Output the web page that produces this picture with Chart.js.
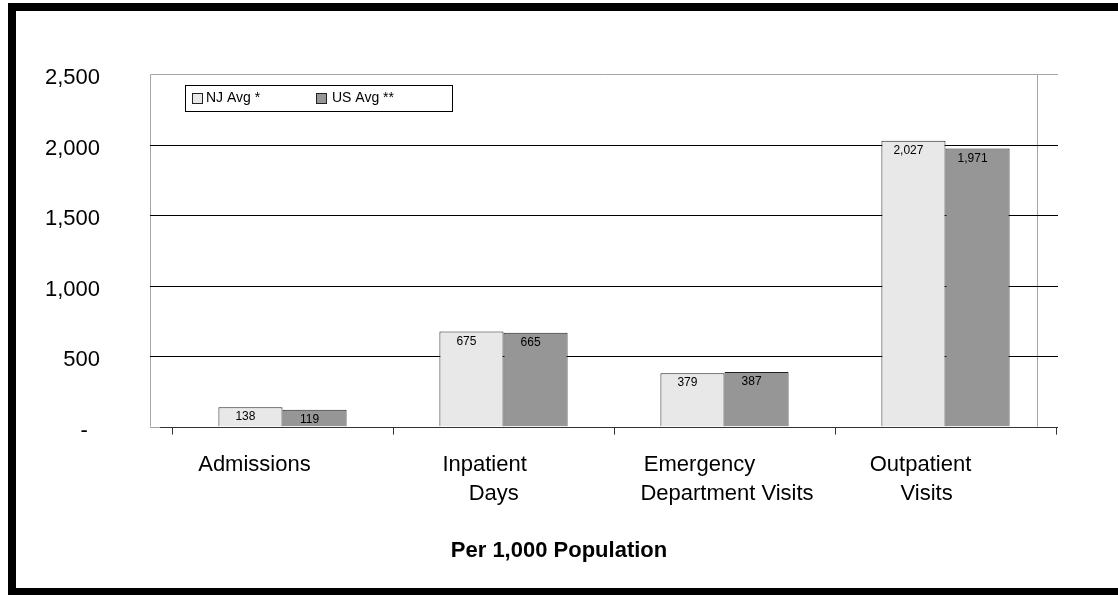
<!DOCTYPE html>
<html>
<head>
<meta charset="utf-8">
<script src="https://cdn.jsdelivr.net/npm/chart.js@4.4.1/dist/chart.umd.min.js"></script>
<style>
  html, body { margin: 0; padding: 0; background: #fff; overflow: hidden; }
  #wrap { position: relative; width: 1118px; height: 595px; }
  #frame { position: absolute; left: 8px; top: 3px; width: 1200px; height: 577px; border: 8px solid #000; }
  #chart { position: absolute; left: 0; top: 0; }
</style>
</head>
<body>
<div id="wrap">
  <div id="frame"></div>
  <canvas id="chart" width="1118" height="595"></canvas>
</div>
<script>
// utilization per 1,000 population
const categories = [
  'Admissions ',
  ['  Inpatient', '     Days'],
  ['Emergency', '         Department Visits'],
  ['Outpatient', '  Visits']
];
const seriesNames = ['NJ Avg *', 'US Avg **'];
const njAvg = [138, 675, 379, 2027];
const usAvg = [119, 665, 387, 1971];
const yMax = 2500;
const yStep = 500;

const FONT = "'Liberation Sans', Arial, Helvetica, sans-serif";
const fills = ['#e8e8e8', '#969696'];
const edge = '#222';

const fmt = v => v.toLocaleString('en-US');

// back wall outline plus the horizontal gridlines, which run a little past the plot
const wallPlugin = {
  id: 'wall',
  beforeDatasetsDraw(chart) {
    const { ctx, chartArea: a, scales: { y } } = chart;
    const left = a.left - 22, right = a.right + 2, back = a.right - 19;
    ctx.save();
    ctx.lineWidth = 1;
    ctx.strokeStyle = '#a6a6a6';
    ctx.beginPath();
    ctx.moveTo(left + 0.5, a.bottom);
    ctx.lineTo(left + 0.5, a.top + 0.5);
    ctx.lineTo(right, a.top + 0.5);
    ctx.moveTo(back + 0.5, a.top);
    ctx.lineTo(back + 0.5, a.bottom);
    ctx.stroke();

    ctx.strokeStyle = '#000';
    ctx.beginPath();
    y.ticks.forEach(t => {
      if (t.value <= 0 || t.value >= yMax) return;
      const py = Math.round(y.getPixelForValue(t.value)) + 0.5;
      ctx.moveTo(left, py);
      ctx.lineTo(right, py);
    });
    ctx.stroke();
    ctx.restore();
  },
  afterDatasetsDraw(chart) {
    const { ctx, chartArea: a, scales: { y } } = chart;
    const left = a.left - 22, right = a.right + 2;
    const py = Math.round(y.getPixelForValue(0)) + 0.5;
    ctx.save();
    ctx.lineWidth = 1;
    ctx.strokeStyle = '#a6a6a6';
    ctx.beginPath();
    ctx.moveTo(left, py);
    ctx.lineTo(a.left - 12, py);
    ctx.stroke();
    ctx.strokeStyle = '#333';
    ctx.beginPath();
    ctx.moveTo(a.left - 12, py);
    ctx.lineTo(right, py);
    ctx.stroke();
    ctx.restore();
  }
};

// value labels just inside the top of each bar
const valueLabels = {
  id: 'valueLabels',
  afterDatasetsDraw(chart) {
    const { ctx } = chart;
    ctx.save();
    ctx.font = '12px ' + FONT;
    ctx.fillStyle = '#000';
    ctx.textAlign = 'center';
    ctx.textBaseline = 'middle';
    chart.data.datasets.forEach((ds, i) => {
      chart.getDatasetMeta(i).data.forEach((bar, j) => {
        ctx.fillText(fmt(ds.data[j]), bar.x - 5, bar.y + 10);
      });
    });
    ctx.restore();
  }
};

// boxed legend in the upper left of the plot
const boxLegend = {
  id: 'boxLegend',
  afterDraw(chart) {
    const { ctx, chartArea: a } = chart;
    const x0 = a.left + 13, y0 = a.top + 11, w = 267, h = 26;
    ctx.save();
    ctx.fillStyle = '#fff';
    ctx.fillRect(x0, y0, w, h);
    ctx.strokeStyle = '#000';
    ctx.lineWidth = 1;
    ctx.strokeRect(x0 + 0.5, y0 + 0.5, w, h);
    ctx.font = '14px ' + FONT;
    ctx.textBaseline = 'middle';
    const items = [{ sx: 7, tx: 21 }, { sx: 131, tx: 147 }];
    chart.data.datasets.forEach((ds, i) => {
      const it = items[i];
      const cy = Math.round(y0 + h / 2) + 0.5;
      ctx.fillStyle = ds.backgroundColor;
      ctx.fillRect(x0 + it.sx, cy - 5, 10, 10);
      ctx.strokeStyle = edge;
      ctx.strokeRect(x0 + it.sx + 0.5, cy - 5, 10, 10);
      ctx.fillStyle = '#000';
      ctx.fillText(ds.label, x0 + it.tx, cy);
    });
    ctx.restore();
  }
};

new Chart(document.getElementById('chart'), {
  type: 'bar',
  data: {
    labels: categories,
    datasets: [
      { label: seriesNames[0], data: njAvg, backgroundColor: fills[0], borderColor: edge, borderWidth: 1 },
      { label: seriesNames[1], data: usAvg, backgroundColor: fills[1], borderColor: edge, borderWidth: 1 }
    ]
  },
  options: {
    responsive: false,
    animation: false,
    datasets: { bar: { categoryPercentage: 0.58, barPercentage: 1.0 } },
    layout: { padding: { top: 74, right: 0, left: 0, bottom: 0 } },
    plugins: {
      legend: { display: false },
      tooltip: { enabled: false },
      title: {
        display: true,
        position: 'bottom',
        text: 'Per 1,000 Population',
        color: '#000',
        font: { family: FONT, size: 22, weight: 'bold' },
        padding: { top: 10, bottom: 31 }
      }
    },
    scales: {
      x: {
        grid: { offset: true, drawOnChartArea: false, drawTicks: true, tickLength: 8, color: '#333' },
        border: { display: false },
        ticks: {
          color: '#000',
          font: { family: FONT, size: 22, lineHeight: 1.35 },
          padding: 15,
          labelOffset: -25,
          maxRotation: 0,
          autoSkip: false
        },
        afterFit: s => { s.height = 101; }
      },
      y: {
        min: 0,
        max: yMax,
        grid: { display: false },
        border: { display: false },
        ticks: {
          stepSize: yStep,
          color: '#000',
          font: { family: FONT, size: 22 },
          padding: 64,
          labelOffset: 4,
          callback: v => v === 0 ? '-  ' : fmt(v)
        },
        afterFit: s => {
          s.width = 172;
          s.paddingTop = 0;
          s.paddingBottom = 0;
        }
      },
      // empty right-hand strip so the plot stops short of the right edge
      yRight: {
        position: 'right',
        grid: { display: false },
        border: { display: false },
        ticks: { display: false },
        afterFit: s => {
          s.width = 62;
          s.paddingTop = 0;
          s.paddingBottom = 0;
        }
      }
    }
  },
  plugins: [wallPlugin, valueLabels, boxLegend]
});
</script>
</body>
</html>
